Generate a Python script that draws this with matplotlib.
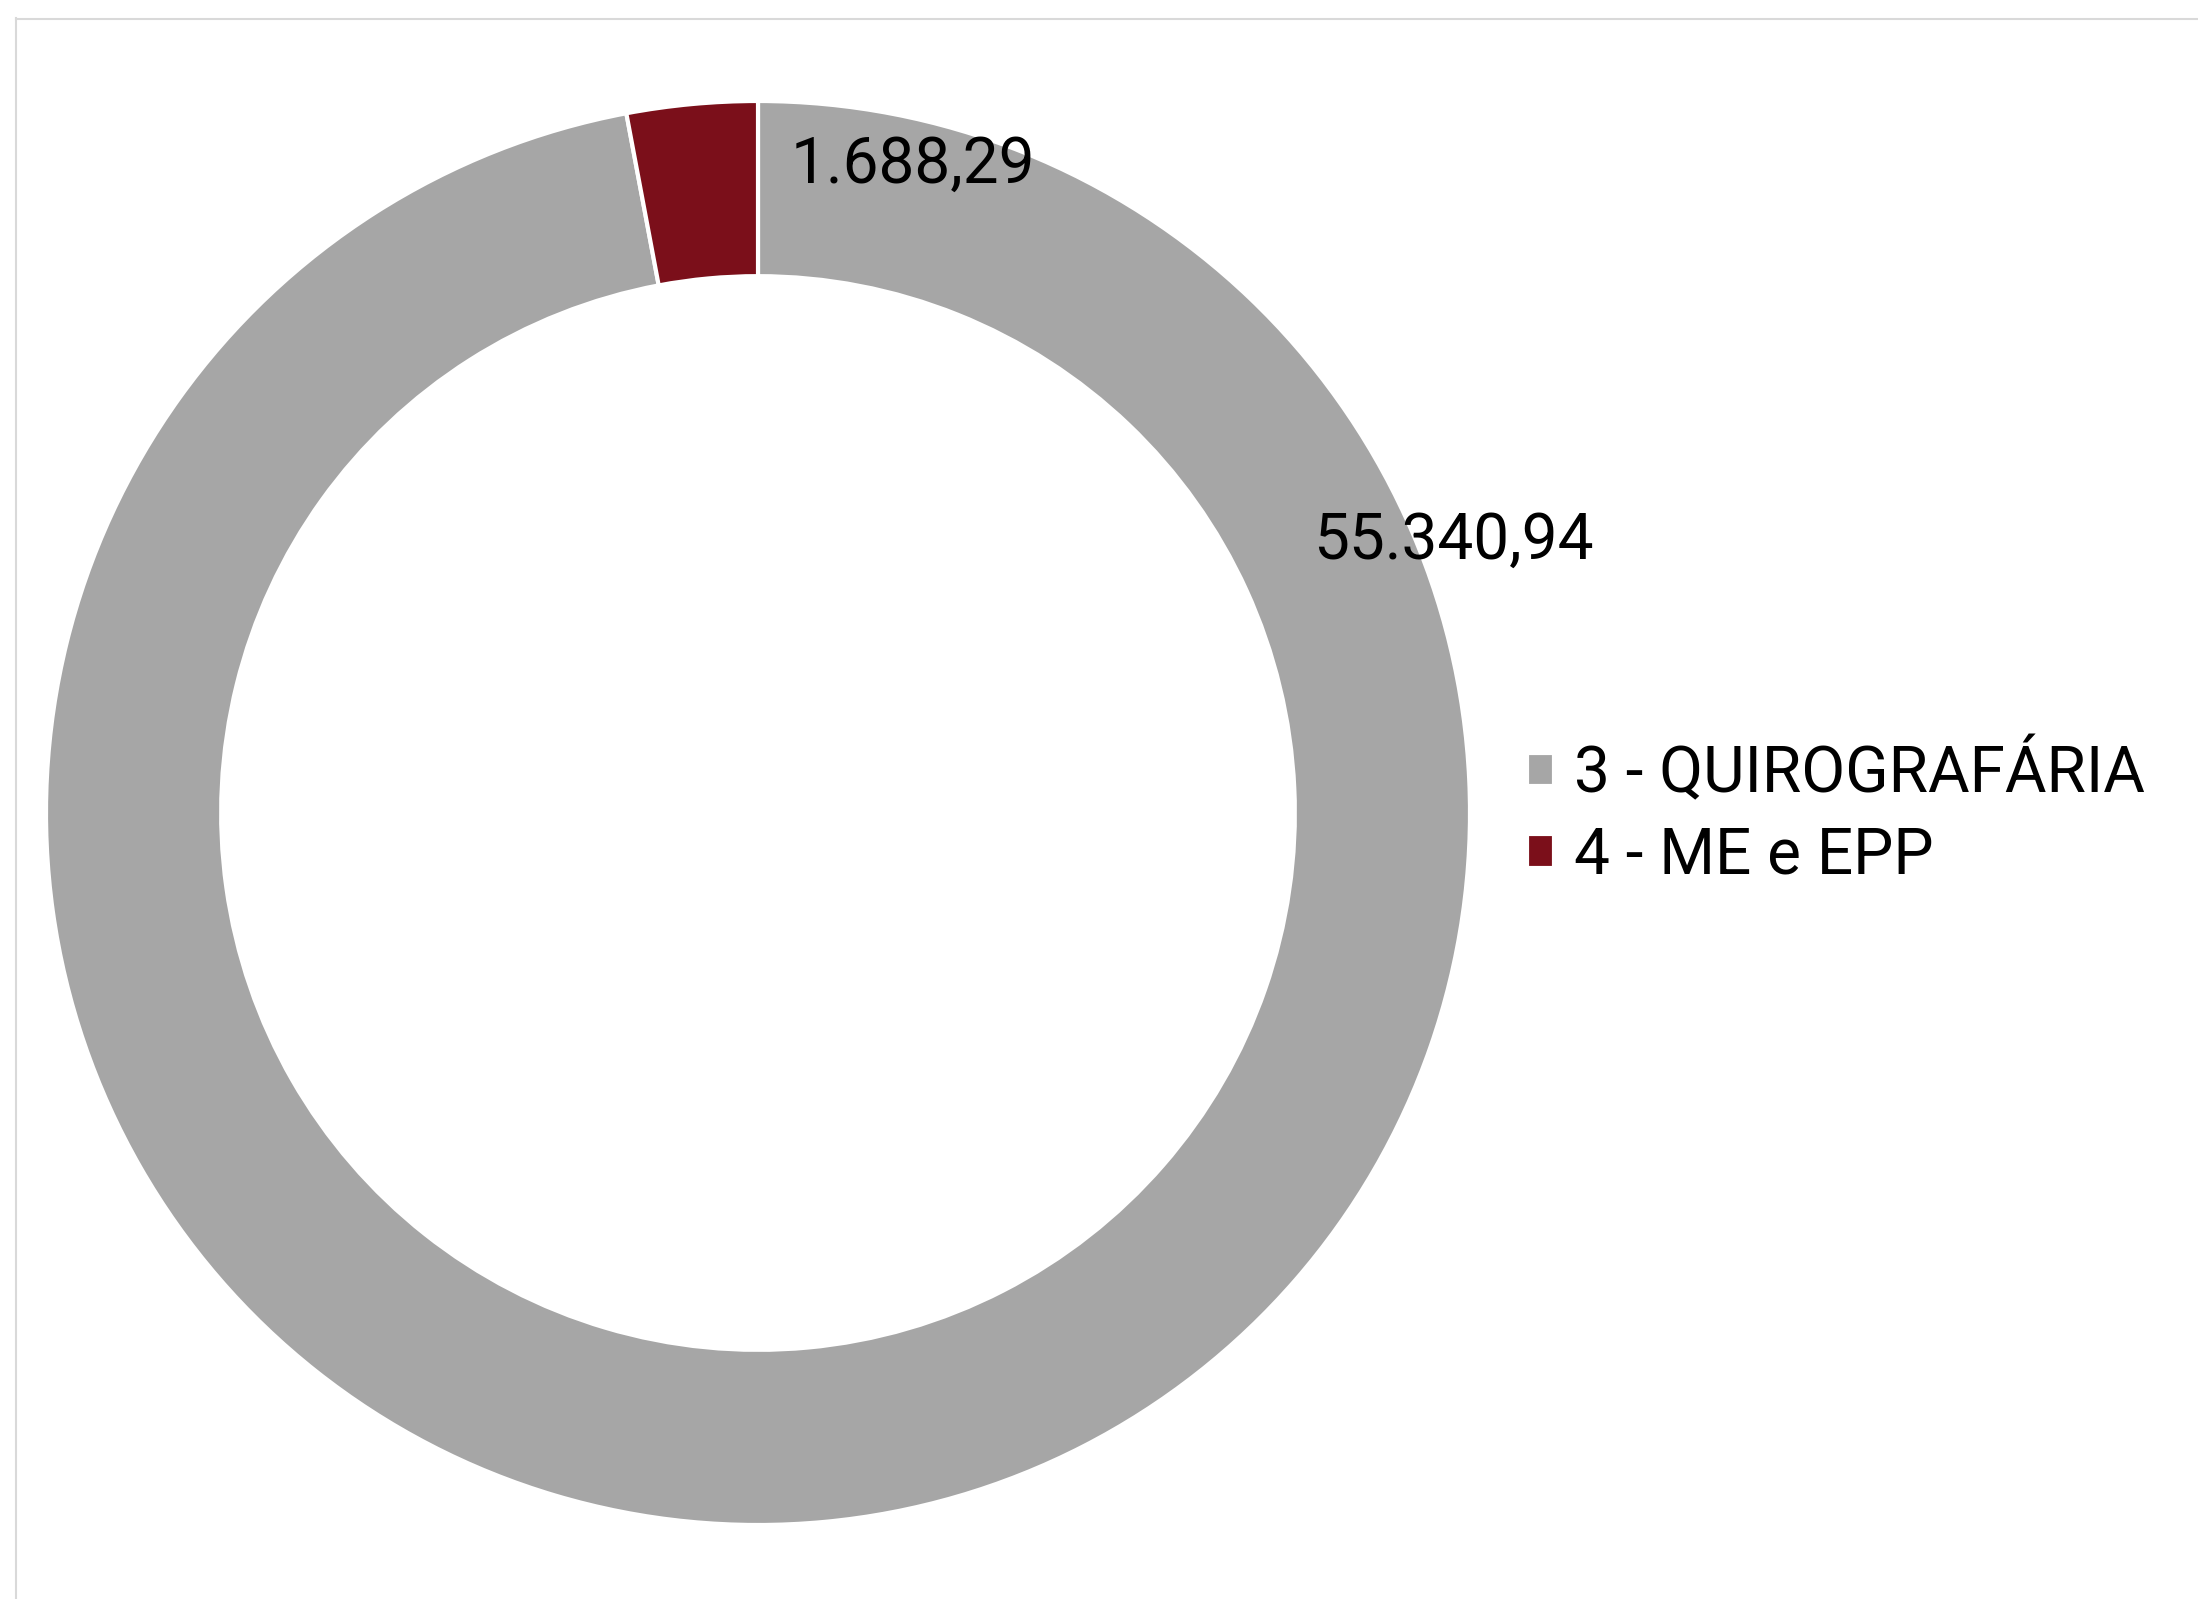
import matplotlib
matplotlib.use("Agg")
import matplotlib.pyplot as plt
from matplotlib.lines import Line2D

# ===================================
# Data
# ===================================

categories = ["3 - QUIROGRAFÁRIA", "4 - ME e EPP"]
values = [55340.94, 1688.29]
value_labels = ["55.340,94", "1.688,29"]
colours = ["#a6a6a6", "#7b0f1a"]

# ===================================
# Plot
# ===================================

W, H, DPI = 2198, 1599, 100
plt.rcParams['font.family'] = ['Roboto', 'DejaVu Sans']
fig = plt.figure(figsize=(W / DPI, H / DPI), dpi=DPI)

FS = 46

# donut: centre (758, 813) px, outer radius 712 px
cx, cy, r = 758, 813, 712
ax = fig.add_axes([(cx - r) / W, (H - cy - r) / H, 2 * r / W, 2 * r / H])

wedges, _ = ax.pie(values, colors=colours, startangle=90, counterclock=False,
                   radius=1, wedgeprops=dict(width=0.246, edgecolor="white", linewidth=3))
ax.set_xlim(-1, 1)
ax.set_ylim(-1, 1)
ax.set_aspect("equal")
ax.axis("off")

# data labels (Excel places them near the outer edge)
label_pos = [(0.78, 0.382), (0.046, 0.91)]
for (x, y), txt in zip(label_pos, value_labels):
    ax.text(x, y, txt, fontsize=FS, color="black", ha="left", va="center")

# legend
leg = fig.legend(wedges, categories, loc="center left",
                 bbox_to_anchor=(1527 / W, 1 - 813 / H), frameon=False,
                 fontsize=FS, handlelength=0.43, handleheight=0.43,
                 handletextpad=0.3, labelspacing=0.3, borderpad=0, borderaxespad=0)

# chart area border (top and left visible)
fig.add_artist(Line2D([16 / W, 16 / W], [0, 1 - 18 / H], color="#d9d9d9", lw=1.5))
fig.add_artist(Line2D([16 / W, 1], [1 - 19 / H, 1 - 19 / H], color="#d9d9d9", lw=1.5))

plt.savefig("out.png", dpi=DPI, facecolor="white")
